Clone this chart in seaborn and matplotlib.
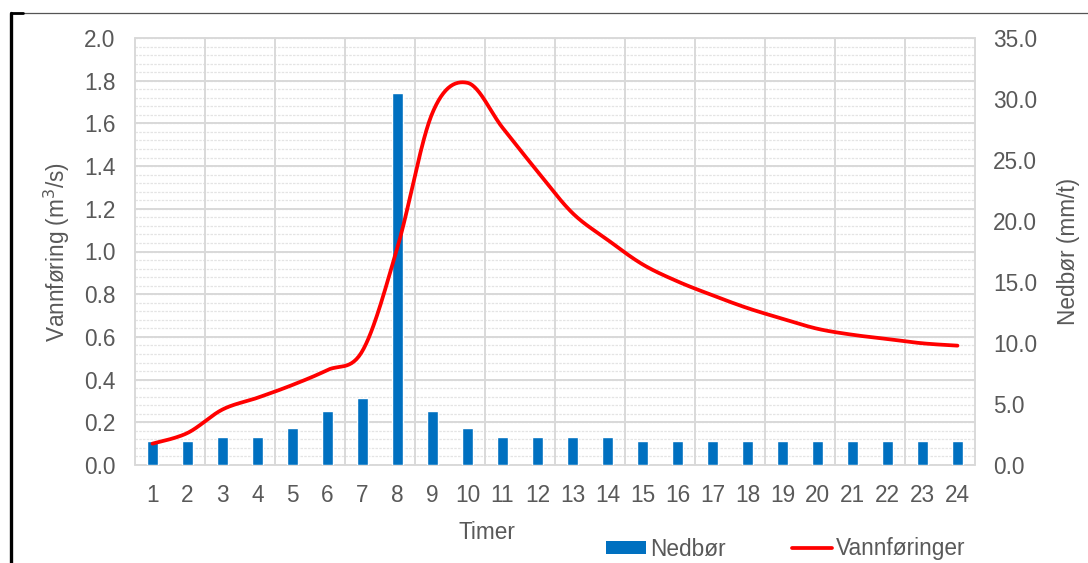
import numpy as np
import pandas as pd
import seaborn as sns
import matplotlib.pyplot as plt
from matplotlib.lines import Line2D
from matplotlib.patches import Patch

# ---------------- data ----------------
hours = list(range(1, 25))
nedbor = [2.0, 2.0, 2.3, 2.3, 3.0, 4.4, 5.5, 30.5, 4.4, 3.0, 2.3, 2.3,
          2.3, 2.3, 2.0, 2.0, 2.0, 2.0, 2.0, 2.0, 2.0, 2.0, 2.0, 2.0]
vannforing = [0.10, 0.15, 0.26, 0.315, 0.375, 0.445, 0.535, 1.02, 1.65, 1.79,
              1.58, 1.375, 1.18, 1.055, 0.94, 0.86, 0.795, 0.735, 0.685,
              0.638, 0.61, 0.59, 0.57, 0.559]
left_ticks = [0.0, 0.2, 0.4, 0.6, 0.8, 1.0, 1.2, 1.4, 1.6, 1.8, 2.0]
right_ticks = [0.0, 5.0, 10.0, 15.0, 20.0, 25.0, 30.0, 35.0]
hour_labels = [str(h) for h in hours]

BLUE = "#0070C0"
RED = "#FF0000"
TXT = "#595959"
GRID = "#D9D9D9"
GRID_MINOR = "#E4E4E4"

sns.set_theme(style="white")
plt.rcParams["font.family"] = ["Liberation Sans", "DejaVu Sans"]
FS = 16.3

df = pd.DataFrame({"Timer": hour_labels, "Nedbør": nedbor, "Vannføring": vannforing})

fig = plt.figure(figsize=(10.88, 5.63), dpi=100)
ax_bar = fig.add_axes([135 / 1088, 98 / 563, 840 / 1088, 427 / 563])
ax_line = ax_bar.twinx()

# ---------------- bars (right axis) ----------------
sns.barplot(data=df, x="Timer", y="Nedbør", order=hour_labels, color=BLUE,
            saturation=1, width=0.29, ax=ax_bar, zorder=3)
n = len(hours)
ax_bar.set_xlim(-0.5, n - 0.5)
ax_bar.set_ylim(right_ticks[0], right_ticks[-1])
ax_bar.set_yticks(right_ticks)
ax_bar.set_yticklabels([f"{v:.1f}" for v in right_ticks])
ax_bar.yaxis.tick_right()
ax_bar.yaxis.set_label_position("right")
ax_bar.set_ylabel("Nedbør (mm/t)", fontsize=FS, color=TXT, labelpad=14)
ax_bar.set_xlabel("Timer", fontsize=FS, color=TXT, labelpad=10, x=0.419)

# grid drawn on the bar axes (below bars), aligned with the left-axis ticks
ratio = right_ticks[-1] / left_ticks[-1]
minor_vals = np.arange(0, left_ticks[-1] + 1e-9, 0.04)
for v in minor_vals:
    ax_bar.axhline(v * ratio, color=GRID_MINOR, lw=0.9, ls=(0, (2, 1)), zorder=0)
for v in left_ticks:
    ax_bar.axhline(v * ratio, color=GRID, lw=1.4, zorder=1, clip_on=False)
boundaries = np.arange(-0.5, n, 2)
for b in boundaries:
    ax_bar.axvline(b, color=GRID, lw=1.4, zorder=1, clip_on=False)

ax_bar.set_xticks(range(n))
ax_bar.set_xticklabels(hour_labels)
ax_bar.set_xticks(boundaries, minor=True)
ax_bar.tick_params(axis="x", which="major", length=0, pad=13.5, labelsize=FS, labelcolor=TXT)
ax_bar.tick_params(axis="x", which="minor", length=5, width=1.4, color=GRID, direction="out")
ax_bar.tick_params(axis="y", length=0, pad=13, labelsize=FS, labelcolor=TXT)
for s in ax_bar.spines.values():
    s.set_visible(False)

# ---------------- smoothed line (left axis) ----------------
xs = np.arange(n, dtype=float)
ys = np.array(vannforing, dtype=float)
P = np.column_stack([xs, ys])
Pext = np.vstack([P[0], P, P[-1]])
t = np.linspace(0, 1, 30)[:, None]
curve = []
for i in range(n - 1):
    p0, p1, p2, p3 = Pext[i], Pext[i + 1], Pext[i + 2], Pext[i + 3]
    b1 = p1 + (p2 - p0) / 6.0
    b2 = p2 - (p3 - p1) / 6.0
    seg = ((1 - t) ** 3) * p1 + 3 * ((1 - t) ** 2) * t * b1 + 3 * (1 - t) * t ** 2 * b2 + t ** 3 * p2
    curve.append(seg if i == 0 else seg[1:])
curve = np.vstack(curve)
sns.lineplot(x=curve[:, 0], y=curve[:, 1], ax=ax_line, color=RED, lw=2.7,
             sort=False, estimator=None)
ax_line.set_ylim(left_ticks[0], left_ticks[-1])
ax_line.set_yticks(left_ticks)
ax_line.set_yticklabels([f"{v:.1f}" for v in left_ticks])
ax_line.yaxis.tick_left()
ax_line.yaxis.set_label_position("left")
ax_line.set_ylabel("Vannføring (m$^3$/s)", fontsize=FS, color=TXT, labelpad=9)
ax_line.tick_params(axis="y", length=0, pad=14, labelsize=FS, labelcolor=TXT)
ax_line.grid(False)
for s in ax_line.spines.values():
    s.set_visible(False)

# ---------------- legend ----------------
handles = [Patch(facecolor=BLUE, edgecolor="none"), Line2D([0], [0], color=RED, lw=2.7)]
fig.legend(handles, ["Nedbør", "Vannføringer"], loc="center",
           bbox_to_anchor=(786 / 1088, 14 / 563), ncol=2, frameon=False,
           fontsize=FS, labelcolor=TXT, handlelength=1.75, handleheight=0.55,
           handletextpad=0.2, columnspacing=2.9)

# ---------------- frame artefacts ----------------
ytop = 1 - 12.5 / 563
fig.add_artist(Line2D([11 / 1088, 1], [ytop, ytop], color="#555555", lw=0.9))
fig.add_artist(Line2D([10.5 / 1088, 23 / 1088], [ytop, ytop], color="black", lw=2.0))
fig.add_artist(Line2D([10.5 / 1088, 10.5 / 1088], [0, ytop], color="black", lw=2.4))

fig.savefig("out.png", dpi=100)
